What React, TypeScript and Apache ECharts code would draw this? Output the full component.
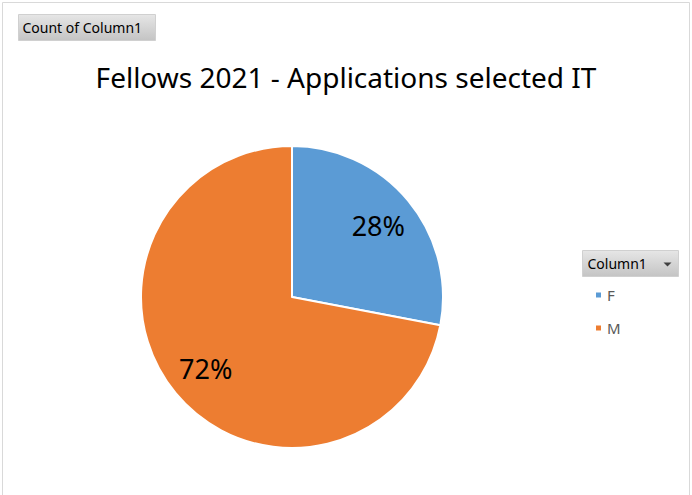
import React, { useEffect, useRef } from "react";
import * as echarts from "echarts";

const titleText = "Fellows 2021 - Applications selected IT";
const categories = ["F", "M"];
const values = [28, 72];
const colors = ["#5B9BD5", "#ED7D31"];
const fieldButtonText = "Count of Column1";
const legendButtonText = "Column1";

const FONT = "'Noto Sans', 'Open Sans', sans-serif";

export default function App() {
  const ref = useRef<HTMLDivElement>(null);
  useEffect(() => {
    document.body.style.margin = "0";
    const chart = echarts.init(ref.current!, undefined, { renderer: "svg" });
    const data = categories.map((c, i) => ({
      name: c,
      value: values[i],
      itemStyle: { color: colors[i] },
    }));
    const total = values.reduce((a, b) => a + b, 0);
    const btnFill = new echarts.graphic.LinearGradient(0, 0, 0, 1, [
      { offset: 0, color: "#e6e6e6" },
      { offset: 1, color: "#c4c4c4" },
    ]);
    chart.setOption({
      animation: false,
      backgroundColor: "#ffffff",
      title: {
        text: titleText,
        left: "center",
        top: 58,
        textStyle: {
          fontFamily: FONT,
          fontSize: 28,
          fontWeight: "normal",
          color: "#000000",
        },
      },
      legend: {
        orient: "vertical",
        left: 589,
        top: 282,
        icon: "rect",
        itemWidth: 7,
        itemHeight: 7,
        itemGap: 17,
        data: categories,
        textStyle: {
          fontFamily: FONT,
          fontSize: 15,
          color: "#595959",
          lineHeight: 16,
        },
        selectedMode: false,
      },
      graphic: [
        {
          type: "rect",
          shape: { x: 2.5, y: 2.5, width: 687, height: 520 },
          style: { fill: "none", stroke: "#d9d9d9", lineWidth: 1 },
          silent: true,
        },
        {
          type: "group",
          left: 18,
          top: 14,
          children: [
            {
              type: "rect",
              shape: { x: 0, y: 0, width: 137, height: 26 },
              style: { fill: btnFill, stroke: "#d0d0d0", lineWidth: 1 },
            },
            {
              type: "text",
              x: 4,
              y: 13,
              style: {
                text: fieldButtonText,
                fontFamily: FONT,
                fontSize: 14,
                fill: "#000000",
                verticalAlign: "middle",
              },
            },
          ],
        },
        {
          type: "group",
          left: 582,
          top: 250,
          children: [
            {
              type: "rect",
              shape: { x: 0, y: 0, width: 96, height: 26 },
              style: { fill: btnFill, stroke: "#d0d0d0", lineWidth: 1 },
            },
            {
              type: "text",
              x: 5,
              y: 13,
              style: {
                text: legendButtonText,
                fontFamily: FONT,
                fontSize: 14,
                fill: "#000000",
                verticalAlign: "middle",
              },
            },
            {
              type: "polygon",
              shape: { points: [[81, 12], [89, 12], [85, 16]] },
              style: { fill: "#404040" },
            },
          ],
        },
      ],
      series: [
        {
          type: "pie",
          center: [292, 297],
          radius: 151,
          startAngle: 90,
          clockwise: true,
          silent: true,
          label: { show: false },
          labelLine: { show: false },
          itemStyle: { borderColor: "#ffffff", borderWidth: 2 },
          data,
        },
        {
          type: "pie",
          center: [292, 297],
          radius: [67, 151],
          startAngle: 90,
          clockwise: true,
          silent: true,
          itemStyle: { color: "transparent" },
          label: {
            show: true,
            position: "inside",
            formatter: (p: any) => Math.round((p.value / total) * 100) + "%",
            fontFamily: FONT,
            fontSize: 27,
            color: "#000000",
          },
          labelLine: { show: false },
          data: categories.map((c, i) => ({
            name: c,
            value: values[i],
            itemStyle: { color: "transparent" },
          })),
        },
      ],
    });
    return () => chart.dispose();
  }, []);
  return <div ref={ref} style={{ width: 692, height: 495 }} />;
}
